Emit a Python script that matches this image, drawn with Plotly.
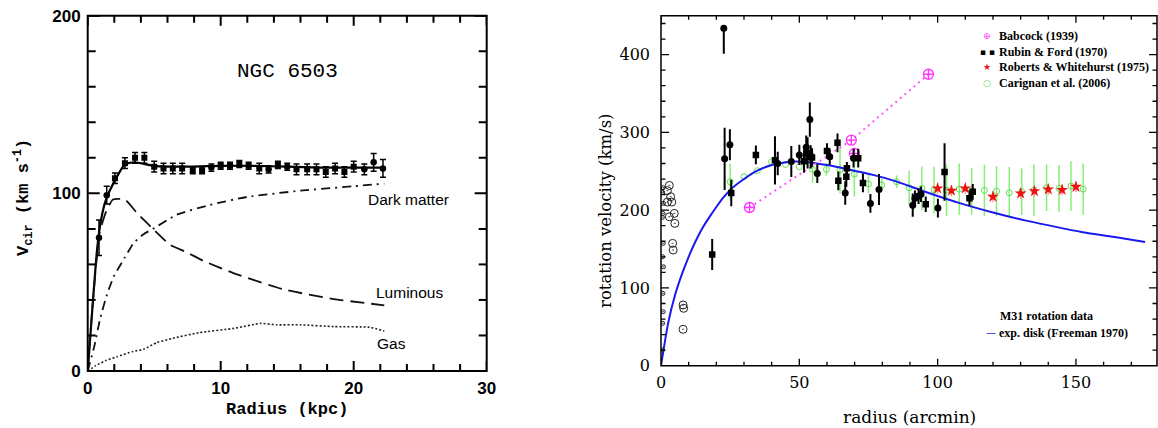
import plotly.graph_objects as go

W, H = 1158, 428

# ---------------- NGC 6503 (left panel) ----------------
ngc_circ_r = [0.85, 1.43, 9.3, 13.6, 15.0, 20.8, 21.5, 22.2]
ngc_circ_v = [75, 99, 114.5, 113.5, 115, 113.5, 117.5, 114]
ngc_circ_err = [10, 5, 2, 2, 2, 3, 5, 5]
ngc_sq_r = [2.05, 2.8, 3.56, 4.26, 5.0, 5.7, 6.4, 7.1, 7.9, 8.6, 10.0, 10.7,
            11.4, 12.1, 12.9, 14.3, 15.7, 16.5, 17.2, 17.9, 18.6, 19.3, 20.0]
ngc_sq_v = [108.5, 117, 120, 120, 115, 114, 114, 114, 113, 113, 115.5, 115.5,
            116.5, 115.5, 114, 116, 113.5, 113.5, 113.5, 112, 114, 112, 115]
ngc_sq_err = [3, 3, 3, 3, 3, 3, 3, 3, 2, 2, 2, 2,
              2, 2, 3, 2, 3, 3, 3, 3, 3, 3, 3]

total_r = [0, 0.35, 0.7, 1.0, 1.4, 2.1, 2.8, 3.5, 5.0, 7.5, 10, 12.5, 15, 17.5, 20, 22.2]
total_v = [0, 35, 68, 85, 97, 108, 116.5, 117.5, 115.5, 115, 115.5, 115.5, 115, 114.5, 114.5, 114.5]

lum_r = [0, 0.4, 0.9, 1.4, 1.9, 2.8, 3.7, 4.9, 6.2, 7.4, 8.7, 11, 14.7, 18.5, 22.3]
lum_v = [0, 40, 78, 90, 96.5, 96.5, 89, 80, 71, 67, 62, 55, 46, 40.5, 37]

dm_r = [0, 0.5, 0.95, 1.45, 1.95, 2.8, 3.45, 4.2, 4.9, 6.7, 9.2, 12, 16, 20, 22.3]
dm_v = [0, 14, 30, 43, 53, 64, 72, 77, 80, 88, 93.5, 98, 101.5, 104, 105.5]

gas_r = [0, 0.6, 1.4, 2.2, 3.4, 4.2, 5.2, 6.4, 8.4, 11, 13, 14.2, 16, 18.5, 21.2, 22.3]
gas_v = [0, 3, 6, 8, 11, 12.2, 16, 18.4, 21.6, 24, 26.8, 26, 26, 25, 24.6, 22.5]

left_x_major = [0, 10, 20, 30]
left_x_minor = [2, 4, 6, 8, 12, 14, 16, 18, 22, 24, 26, 28]
left_y_major = [0, 100, 200]
left_y_minor = [20, 40, 60, 80, 120, 140, 160, 180]

# ---------------- M31 (right panel) ----------------
rf_circ_x = [22.7, 23.0, 24.9, 42.2, 47.1, 50.0, 52.5, 53.0, 53.8, 56.5, 61.0, 66.6,
             69.6, 75.7, 78.8, 91.0, 91.8, 94.0, 100.1]
rf_circ_y = [434, 266, 284, 260, 262.5, 271, 281, 273.6, 316.5, 247, 268.5, 222,
             266.8, 208.6, 226.5, 206.4, 215.4, 220.5, 202.6]
rf_circ_err_up = [0, 40, 20, 15, 20, 13, 15, 20, 22, 12, 10, 15,
                  12, 12, 20, 15, 10, 10, 12]
rf_circ_err_dn = [33, 40, 20, 15, 20, 13, 15, 20, 22, 12, 10, 15,
                  12, 12, 20, 15, 10, 10, 12]
rf_sq_x = [18.5, 25.4, 34.3, 41.2, 51.7, 54.1, 54.6, 60.0, 63.8, 64.1, 67.0, 67.2,
           71.3, 73.0, 93.1, 95.7, 102.5, 111.5, 112.7]
rf_sq_y = [143, 222, 271, 264, 263, 268.5, 267.7, 276, 286.5, 237.7, 243, 254,
           266.8, 235, 218, 207.7, 249, 215.4, 223.5]
rf_sq_err = [20, 17, 12, 31, 15, 15, 12, 10, 12, 12, 13, 8,
             12, 12, 10, 10, 37, 10, 10]

inner_x = [3.0, 2.3, 3.5, 2.3, 3.9, 4.8, 3.0, 5.0, 4.2, 4.4, 7.97, 8.2, 7.97]
inner_y = [231.8, 225, 217.3, 210.4, 210.4, 195.8, 191.5, 183, 157.3, 148.7, 78, 73.8, 46.8]
tiny_x = [0.8, 0.6, 0.9, 0.7, 0.5, 0.8, 0.6, 0.9, 0.7, 0.8, 0.6, 0.5]
tiny_y = [228.8, 222.9, 208.7, 195.8, 190.7, 157.3, 140.1, 127.2, 93, 69.4, 54.5, 20.2]

bab_x = [32.0, 68.8, 69.9, 96.7]
bab_y = [203.4, 290, 272.8, 374.7]

rw_x = [100, 105, 110, 120, 130, 135, 140, 145, 150]
rw_y = [228, 225, 228, 217.2, 221.6, 224.5, 226.7, 226, 230]
rw_err = [7, 7, 7, 7, 7, 7, 7, 7, 7]

car_x = [25.0, 30.0, 34.8, 40.0, 45.0, 50.0, 54.8, 59.8, 64.7, 69.9, 75.0, 79.8, 85.2, 89.7,
         94.3, 98.7, 103.2, 107.8, 112.3, 116.9, 121.3, 125.9, 130.4, 134.8, 139.4, 143.9, 148.2, 152.6]
car_y = [236.5, 243, 250.7, 262, 258.8, 255.8, 252.4, 252.4, 251.5, 246.4, 233.8, 232.3, 236.5, 228.8,
         228, 225.8, 225.8, 227.1, 224.5, 225.4, 224.5, 222.4, 223.7, 225.8, 228.8, 228, 231, 227]
car_err = [23, 0, 0, 0, 0, 0, 17, 8, 30, 29, 12, 8, 8, 22,
           28, 30, 33, 33, 30, 33, 32, 33, 30, 33, 30, 30, 32, 33]

disk_x = [0, 1, 2.6, 5, 7.5, 10, 12.5, 15, 17.5, 20, 22.5, 25, 30, 35, 40, 46, 52, 60, 67, 77, 85, 96,
          108, 120, 132, 144, 152, 164, 175]
disk_y = [0, 22, 55, 90, 117, 140, 160, 177, 191, 204, 216, 226, 240, 251, 258, 262, 262, 258, 253, 245, 237, 223,
          209, 197, 186.5, 177.5, 172, 165.5, 159]

right_x_major = [0, 50, 100, 150]
right_x_minor = [10, 20, 30, 40, 60, 70, 80, 90, 110, 120, 130, 140, 160, 170]
right_y_major = [0, 100, 200, 300, 400]
right_y_minor = [20, 40, 60, 80, 120, 140, 160, 180, 220, 240, 260, 280, 320, 340, 360, 380, 420, 440]

fig = go.Figure()

# left panel traces
fig.add_trace(go.Scatter(x=total_r, y=total_v, mode="lines", line=dict(color="black", width=2.2, shape="spline", smoothing=0.5),
                         xaxis="x", yaxis="y", showlegend=False))
fig.add_trace(go.Scatter(x=lum_r, y=lum_v, mode="lines", line=dict(color="#111", width=1.8, dash="14px,7px", shape="spline", smoothing=0.5),
                         xaxis="x", yaxis="y", showlegend=False))
fig.add_trace(go.Scatter(x=dm_r, y=dm_v, mode="lines", line=dict(color="#111", width=1.8, dash="9px,5px,2px,5px", shape="spline", smoothing=0.5),
                         xaxis="x", yaxis="y", showlegend=False))
fig.add_trace(go.Scatter(x=gas_r, y=gas_v, mode="lines", line=dict(color="#222", width=1.6, dash="2px,2px", shape="spline", smoothing=0.5),
                         xaxis="x", yaxis="y", showlegend=False))
fig.add_trace(go.Scatter(x=ngc_sq_r, y=ngc_sq_v, mode="markers", marker=dict(symbol="square", size=6, color="black"),
                         error_y=dict(type="data", array=ngc_sq_err, color="black", thickness=1.5, width=3),
                         xaxis="x", yaxis="y", showlegend=False))
fig.add_trace(go.Scatter(x=ngc_circ_r, y=ngc_circ_v, mode="markers", marker=dict(symbol="circle", size=6.5, color="black"),
                         error_y=dict(type="data", array=ngc_circ_err, color="black", thickness=1.5, width=3),
                         xaxis="x", yaxis="y", showlegend=False))

# right panel traces
fig.add_trace(go.Scatter(x=car_x, y=car_y, mode="markers",
                         marker=dict(symbol="circle-open", size=6, color="#66dd55", line=dict(width=1)),
                         error_y=dict(type="data", array=car_err, color="#88ee77", thickness=1.5, width=0),
                         xaxis="x2", yaxis="y2", showlegend=False))
fig.add_trace(go.Scatter(x=disk_x, y=disk_y, mode="lines", line=dict(color="#1a1aee", width=2, shape="spline", smoothing=0.8),
                         xaxis="x2", yaxis="y2", showlegend=False))
fig.add_trace(go.Scatter(x=[bab_x[i] for i in (0, 1, 3)], y=[bab_y[i] for i in (0, 1, 3)], mode="lines",
                         line=dict(color="#ff55ff", width=2, dash="2px,4px"),
                         xaxis="x2", yaxis="y2", showlegend=False))
fig.add_trace(go.Scatter(x=bab_x, y=bab_y, mode="markers",
                         marker=dict(symbol="circle-cross-open", size=10, color="#ff33ff", line=dict(width=1.3)),
                         xaxis="x2", yaxis="y2", showlegend=False))
fig.add_trace(go.Scatter(x=rf_circ_x, y=rf_circ_y, mode="markers", marker=dict(symbol="circle", size=7, color="black"),
                         error_y=dict(type="data", array=rf_circ_err_up, arrayminus=rf_circ_err_dn, color="black", thickness=2, width=0),
                         xaxis="x2", yaxis="y2", showlegend=False))
fig.add_trace(go.Scatter(x=rf_sq_x, y=rf_sq_y, mode="markers", marker=dict(symbol="square", size=6.5, color="black"),
                         error_y=dict(type="data", array=rf_sq_err, color="black", thickness=2, width=0),
                         xaxis="x2", yaxis="y2", showlegend=False))
fig.add_trace(go.Scatter(x=rw_x, y=rw_y, mode="markers", marker=dict(symbol="star", size=9, color="#ee1111"),
                         error_y=dict(type="data", array=rw_err, color="#ff8888", thickness=1.2, width=0),
                         xaxis="x2", yaxis="y2", showlegend=False))
fig.add_trace(go.Scatter(x=inner_x, y=inner_y, mode="markers",
                         marker=dict(symbol="circle-open-dot", size=8, color="#222", line=dict(width=1)),
                         xaxis="x2", yaxis="y2", showlegend=False))
fig.add_trace(go.Scatter(x=tiny_x, y=tiny_y, mode="markers",
                         marker=dict(symbol="circle-open-dot", size=4, color="#222", line=dict(width=1)),
                         xaxis="x2", yaxis="y2", showlegend=False))


def px_x(p):
    return p / W


def px_y(p):
    return 1 - p / H


left_tick_font = dict(family="Liberation Sans", size=17, color="#000000", weight="bold")
right_tick_font = dict(family="DejaVu Serif", size=16, color="#000000")

LX = [px_x(87.7), px_x(486.7)]
LY = [px_y(371), px_y(15.7)]
RX = [px_x(661), px_x(1157)]
RY = [px_y(365.7), px_y(15.7)]

fig.update_layout(
    width=W, height=H, margin=dict(l=0, r=0, t=0, b=0),
    paper_bgcolor="white", plot_bgcolor="rgba(0,0,0,0)", showlegend=False,
    xaxis=dict(domain=LX, range=[0, 30], anchor="y", automargin=False,
               showline=False, ticks="", tickmode="array", tickvals=left_x_major,
               showgrid=False, zeroline=False, tickfont=left_tick_font, ticklabelstandoff=5),
    yaxis=dict(domain=LY, range=[0, 200], anchor="x", automargin=False,
               showline=False, ticks="", tickmode="array", tickvals=left_y_major,
               showgrid=False, zeroline=False, tickfont=left_tick_font, ticklabelstandoff=6),
    xaxis2=dict(domain=RX, range=[0, 179.3], anchor="y2", automargin=False,
                showline=False, ticks="", tickmode="array", tickvals=right_x_major,
                showgrid=False, zeroline=False, tickfont=right_tick_font, ticklabelstandoff=5),
    yaxis2=dict(domain=RY, range=[0, 450], anchor="x2", automargin=False,
                showline=False, ticks="", tickmode="array", tickvals=right_y_major,
                showgrid=False, zeroline=False, tickfont=right_tick_font, ticklabelstandoff=10),
)

# frame boxes and inside tick marks on all four sides, placed through the axes' scales
shapes = []


def frame(xa, ya, width):
    shapes.append(dict(type="rect", xref=f"{xa} domain", yref=f"{ya} domain", x0=0, x1=1, y0=0, y1=1,
                       line=dict(color="#000000", width=width), fillcolor="rgba(0,0,0,0)", layer="above"))


def xticks(xa, ya, vals, length_px, plot_h, width):
    f = length_px / plot_h
    for v in vals:
        for y0, y1 in ((0, f), (1 - f, 1)):
            shapes.append(dict(type="line", xref=xa, yref=f"{ya} domain", x0=v, x1=v, y0=y0, y1=y1,
                               line=dict(color="#000000", width=width), layer="above"))


def yticks(xa, ya, vals, length_px, plot_w, width):
    f = length_px / plot_w
    for v in vals:
        for x0, x1 in ((0, f), (1 - f, 1)):
            shapes.append(dict(type="line", xref=f"{xa} domain", yref=ya, x0=x0, x1=x1, y0=v, y1=v,
                               line=dict(color="#000000", width=width), layer="above"))


LW, LH = 486.7 - 87.7, 371 - 15.7
RW, RH = 1157 - 661, 365.7 - 15.7
frame("x", "y", 2)
xticks("x", "y", left_x_major, 10, LH, 2)
xticks("x", "y", left_x_minor, 7, LH, 2)
yticks("x", "y", left_y_major, 12, LW, 2)
yticks("x", "y", left_y_minor, 8, LW, 2)
frame("x2", "y2", 1.5)
xticks("x2", "y2", right_x_major, 7, RH, 1.3)
xticks("x2", "y2", right_x_minor, 4, RH, 1.3)
yticks("x2", "y2", right_y_major, 8, RW, 1.3)
yticks("x2", "y2", right_y_minor, 4.5, RW, 1.3)
fig.update_layout(shapes=shapes)

anns = []


def add_text(text, x, y, size, family, color="#000000", xanchor="left", angle=0, weight="normal"):
    anns.append(dict(text=text, x=px_x(x), y=px_y(y), xref="paper", yref="paper",
                     xanchor=xanchor, yanchor="middle", showarrow=False, textangle=angle,
                     font=dict(size=size, family=family, color=color, weight=weight)))


# left panel texts
add_text("NGC 6503", 287, 71, 21, "Liberation Mono", xanchor="center")
add_text("Dark matter", 365.7, 199, 15.5, "Liberation Sans")
add_text("Luminous", 374, 292, 15.5, "Liberation Sans")
add_text("Gas", 375, 343, 15.5, "Liberation Sans")
add_text("Radius (kpc)", 287, 409, 17, "Liberation Mono", xanchor="center", weight="bold")
add_text("V<sub>cir</sub> (km s<sup>-1</sup>)", 23, 198, 17, "Liberation Mono", xanchor="center", angle=-90, weight="bold")

# right panel texts
add_text("rotation velocity (km/s)", 605, 211, 16.5, "DejaVu Serif", xanchor="center", angle=-90)
add_text("radius (arcmin)", 909, 417, 17, "DejaVu Serif", xanchor="center")

leg_font = "Liberation Serif"
add_text("\u2295", 986.7, 36, 9, "DejaVu Sans", color="#ff44ff", xanchor="center")
add_text("Babcock (1939)", 997.3, 36, 12, leg_font, weight="bold")
add_text("\u25aa \u25aa", 987, 51.7, 9, "DejaVu Sans", xanchor="center")
add_text("Rubin &amp; Ford (1970)", 997.3, 51.7, 12, leg_font, weight="bold")
add_text("\u2605", 987, 66.7, 9, "DejaVu Sans", color="#ee1111", xanchor="center")
add_text("Roberts &amp; Whitehurst (1975)", 997.3, 66.7, 12, leg_font, weight="bold")
add_text("\u25cb", 987, 82.7, 9, "DejaVu Sans", color="#55dd55", xanchor="center")
add_text("Carignan et al. (2006)", 997.3, 82.7, 12, leg_font, weight="bold")
add_text("M31 rotation data", 998.3, 315.7, 12, leg_font, weight="bold")
add_text("\u2014", 991, 332.7, 10, "DejaVu Sans", color="#1a1aee", xanchor="center")
add_text("exp. disk (Freeman 1970)", 997.3, 332.7, 12, leg_font, weight="bold")

fig.update_layout(annotations=anns)

fig.write_html("out.html")
